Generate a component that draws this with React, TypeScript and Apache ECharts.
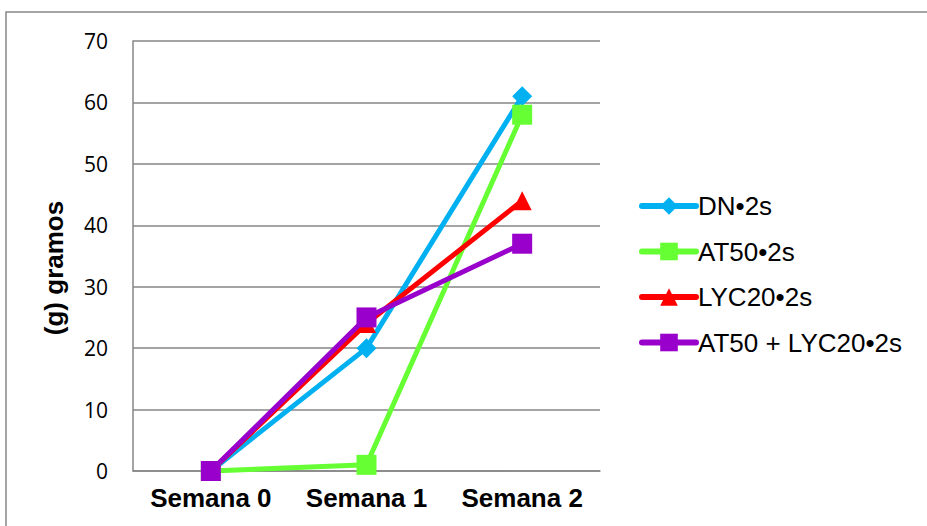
import React, { useEffect, useRef } from "react";
import * as echarts from "echarts";

const categories = ["Semana 0", "Semana 1", "Semana 2"];
const seriesNames = ["DN•2s", "AT50•2s", "LYC20•2s", "AT50 + LYC20•2s"];
const dn = [0, 20, 61];
const at50 = [0, 1, 58];
const lyc20 = [0, 24, 44];
const at50lyc20 = [0, 25, 37];
const yTicks = { min: 0, max: 70, interval: 10 };

export default function App() {
  const ref = useRef<HTMLDivElement>(null);
  useEffect(() => {
    document.body.style.margin = "0";
    const chart = echarts.init(ref.current!, undefined, { renderer: "svg" });
    const mk = (name: string, data: number[], color: string, symbol: string, size: number) => ({
      name,
      type: "line",
      data,
      symbol,
      symbolSize: size,
      lineStyle: { color, width: 5 },
      itemStyle: { color },
      z: 3,
    });
    chart.setOption({
      animation: false,
      backgroundColor: "#fff",
      graphic: [
        {
          type: "rect",
          shape: { x: 6, y: 12, width: 940, height: 540 },
          style: { fill: "none", stroke: "#888888", lineWidth: 1.5 },
          z: -1,
        },
      ],
      grid: { left: 133, right: 327, top: 41, bottom: 55, containLabel: false },
      legend: {
        orient: "vertical",
        left: 634,
        top: 188,
        itemWidth: 54,
        itemHeight: 22,
        itemGap: 19.5,
        data: seriesNames,
        lineStyle: { width: 6, cap: "round" },
        textStyle: {
          fontFamily: "Arial, 'Liberation Sans'",
          fontSize: 26,
          color: "#000",
          padding: [0, 0, 0, -3],
        },
      },
      xAxis: {
        type: "category",
        data: categories,
        boundaryGap: true,
        axisLine: { lineStyle: { color: "#868686", width: 1.5 } },
        axisTick: { show: false },
        axisLabel: {
          interval: 0,
          hideOverlap: false,
          margin: 14,
          color: "#000",
          fontFamily: "Arial, 'Liberation Sans'",
          fontWeight: "bold",
          fontSize: 26,
        },
      },
      yAxis: {
        type: "value",
        min: yTicks.min,
        max: yTicks.max,
        interval: yTicks.interval,
        name: "(g) gramos",
        nameLocation: "middle",
        nameGap: 66,
        nameTextStyle: {
          color: "#000",
          fontFamily: "Arial, 'Liberation Sans'",
          fontWeight: "bold",
          fontSize: 26,
          padding: [0, 24, 0, 0],
        },
        axisLine: { show: true, lineStyle: { color: "#868686", width: 1.5 } },
        axisTick: { show: false },
        splitLine: { lineStyle: { color: "#868686", width: 1.5 } },
        axisLabel: {
          margin: 25,
          color: "#000",
          fontFamily: "'Open Sans', 'Noto Sans', sans-serif",
          fontSize: 21,
        },
      },
      series: [
        mk(seriesNames[0], dn, "#00B0F0", "diamond", 20),
        mk(seriesNames[1], at50, "#66FF33", "rect", 20),
        mk(seriesNames[2], lyc20, "#FF0000", "triangle", 19),
        mk(seriesNames[3], at50lyc20, "#9900CC", "rect", 20),
      ],
    });
    return () => chart.dispose();
  }, []);
  return (
    <div
      ref={ref}
      style={{ position: "fixed", left: 0, top: 0, width: 927, height: 526 }}
    />
  );
}
